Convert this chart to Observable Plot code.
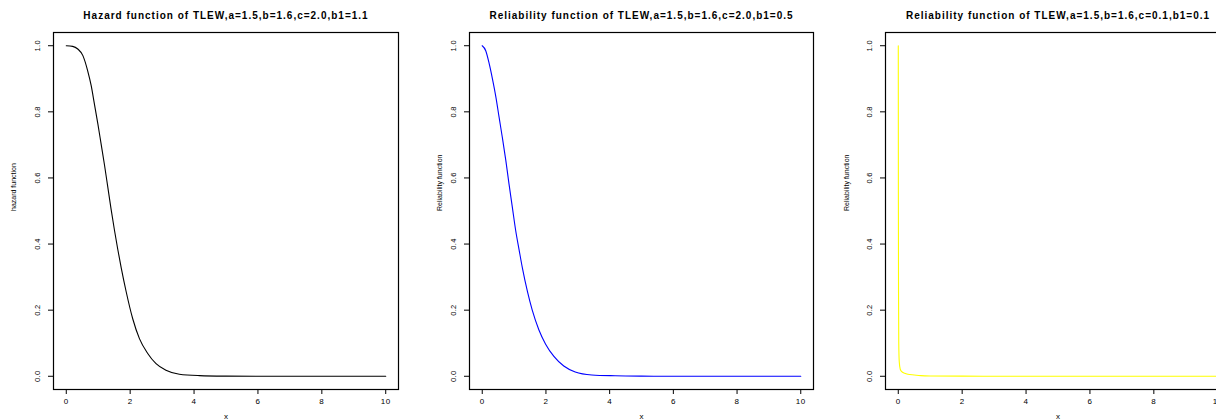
<!DOCTYPE html>
<html>
<head>
<meta charset="utf-8">
<script src="https://cdn.jsdelivr.net/npm/d3@7"></script>
<script src="https://cdn.jsdelivr.net/npm/@observablehq/plot@0.6"></script>
<style>
  html, body { margin: 0; padding: 0; background: #fff; }
  #wrap { position: relative; width: 1216px; height: 419px; overflow: hidden; background: #fff; }
  text[aria-label="panel title"] { letter-spacing: 1px; }
  g[aria-label="x-axis tick label"] text { letter-spacing: 0.5px; }
  text[aria-label="y tick labels"] { letter-spacing: 0.3px; }
</style>
</head>
<body>
<div id="wrap"></div>
<script>
// ---- data ----
const xTicks = [0, 2, 4, 6, 8, 10];
const yTicks = [0, 0.2, 0.4, 0.6, 0.8, 1.0];

const titles = [
  "Hazard function of TLEW,a=1.5,b=1.6,c=2.0,b1=1.1",
  "Reliability function of TLEW,a=1.5,b=1.6,c=2.0,b1=0.5",
  "Reliability function of TLEW,a=1.5,b=1.6,c=0.1,b1=0.1"
];
const yLabels = ["hazard function", "Reliability function", "Reliability function"];
const xLabel = "x";

const hazX = [0, 0.2, 0.36, 0.52, 0.67, 0.78, 0.88, 0.99, 1.09, 1.2, 1.3, 1.4, 1.51, 1.61, 1.72, 1.87, 2.08, 2.29, 2.55, 2.81, 3.12, 3.54, 4.17, 5, 6, 7, 8, 9, 10];
const hazY = [1.0, 0.998, 0.99, 0.97, 0.924, 0.879, 0.824, 0.763, 0.703, 0.637, 0.572, 0.507, 0.441, 0.385, 0.328, 0.258, 0.174, 0.114, 0.069, 0.038, 0.018, 0.006, 0.002, 0.0005, 0, 0, 0, 0, 0];

const rel1X = [0, 0.11, 0.22, 0.32, 0.43, 0.53, 0.63, 0.74, 0.84, 0.95, 1.05, 1.16, 1.26, 1.42, 1.57, 1.78, 1.99, 2.25, 2.56, 2.92, 3.44, 4.17, 5, 6, 7, 8, 9, 10];
const rel1Y = [1.0, 0.985, 0.945, 0.9, 0.844, 0.783, 0.723, 0.653, 0.582, 0.508, 0.441, 0.381, 0.328, 0.256, 0.2, 0.14, 0.097, 0.06, 0.031, 0.013, 0.004, 0.0015, 0.0004, 0, 0, 0, 0, 0];

const rel2X = [0, 0.003, 0.008, 0.015, 0.03, 0.06, 0.1, 0.2, 0.3, 0.5, 0.7, 1, 2, 3, 4, 5, 6, 7, 8, 9, 10];
const rel2Y = [1.0, 0.55, 0.25, 0.1, 0.045, 0.022, 0.015, 0.009, 0.006, 0.004, 0.002, 0.001, 0.0004, 0.0002, 0, 0, 0, 0, 0, 0, 0];

const colors = ["#000000", "#0000ff", "#ffff00"];

// ---- drawing ----
const FONT = "'Liberation Sans', Arial, Helvetica, sans-serif";

function panel({left, width, mL, mR, title, ylab, ylabDx, color, X, Y}) {
  const data = X.map((x, i) => ({x, y: Y[i]}));
  const chart = Plot.plot({
    width, height: 419,
    marginTop: 32, marginBottom: 30, marginLeft: mL, marginRight: mR,
    x: {domain: [-0.4, 10.4]},
    y: {domain: [-0.04, 1.04]},
    style: {fontFamily: FONT, background: "transparent", overflow: "visible", color: "#000"},
    marks: [
      Plot.axisX({ticks: xTicks, tickSize: 5, tickPadding: 4, fontSize: 8, tickFormat: d => String(d), label: null}),
      Plot.axisY({ticks: yTicks, tickSize: 5, tickFormat: () => "", label: null}),
      Plot.text(yTicks, {y: d => d, frameAnchor: "left", dx: -16, rotate: -90, text: d => d.toFixed(1),
        fontSize: 7.5, textAnchor: "middle", lineAnchor: "middle", fill: "#000", ariaLabel: () => "y tick labels"}),
      Plot.line(data, {x: "x", y: "y", stroke: color, strokeWidth: 1.1, curve: "monotone-x"}),
      Plot.frame({stroke: "#000", strokeWidth: 1.2}),
      Plot.text([title], {frameAnchor: "top", dy: -17, text: d => d, fontWeight: "bold", fontSize: 10,
        lineAnchor: "middle", fill: "#000", ariaLabel: () => "panel title"}),
      Plot.text([ylab], {frameAnchor: "left", dx: ylabDx, rotate: -90, text: d => d, fontSize: 7,
        lineAnchor: "middle", fill: "#000"}),
      Plot.text([xLabel], {frameAnchor: "bottom", dy: 24, text: d => d, fontSize: 8, lineAnchor: "top", fill: "#000"})
    ]
  });
  chart.style.left = left + "px";
  chart.style.position = "absolute";
  chart.style.top = "0px";
  document.getElementById("wrap").appendChild(chart);
}

panel({left: 0, width: 405, mL: 53, mR: 7, title: titles[0], ylab: yLabels[0], ylabDx: -40, color: colors[0], X: hazX, Y: hazY});
panel({left: 415, width: 405, mL: 54, mR: 7, title: titles[1], ylab: yLabels[1], ylabDx: -30, color: colors[1], X: rel1X, Y: rel1Y});
panel({left: 830, width: 407, mL: 55, mR: 7, title: titles[2], ylab: yLabels[2], ylabDx: -39, color: colors[2], X: rel2X, Y: rel2Y});
</script>
</body>
</html>
